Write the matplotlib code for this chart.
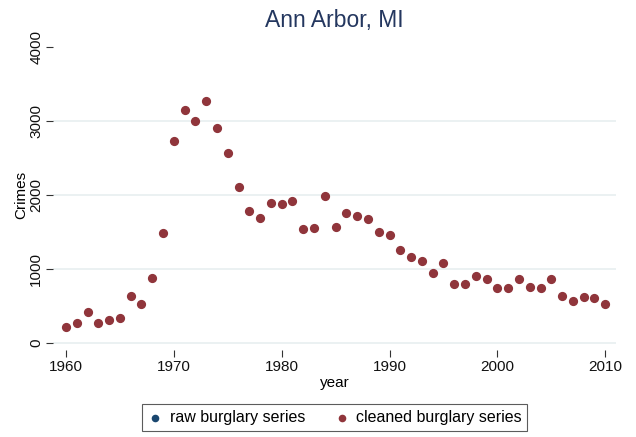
import numpy as np
import matplotlib.pyplot as plt

plt.rcParams['font.family'] = ['Liberation Sans', 'DejaVu Sans']

years = list(range(1960, 2011))
cleaned = [220, 275, 423, 275, 311, 342, 635, 522, 874, 1486,
           2734, 3149, 2995, 3270, 2910, 2572, 2113, 1788, 1685, 1887,
           1878, 1923, 1545, 1554, 1991, 1563, 1752, 1721, 1671, 1505,
           1455, 1252, 1162, 1104, 941, 1081, 802, 802, 910, 860,
           748, 739, 860, 752, 739, 860, 631, 572, 622, 604,
           523]
# raw series sits underneath the cleaned one
raw = list(cleaned)

y_ticks = [0, 1000, 2000, 3000, 4000]
x_ticks = [1960, 1970, 1980, 1990, 2000, 2010]

navy = "#1a476f"
maroon = "#90353b"

fig = plt.figure(figsize=(6.36, 4.37), dpi=100)
ax = fig.add_axes([53 / 636, 1 - 350 / 437, 563 / 636, 310 / 437])

for yv in y_ticks[:-1]:
    ax.axhline(yv, color="#e8eff0", lw=1.2, zorder=0)

ax.scatter(years, raw, s=30, color=navy, linewidth=0, zorder=2, label="raw burglary series")
ax.scatter(years, cleaned, s=44, color=maroon, linewidth=0,
           zorder=3, label="cleaned burglary series")

ax.set_xlim(1958.8, 2011)
ax.set_ylim(-95, 4095)
ax.set_xticks(x_ticks)
ax.set_yticks(y_ticks)
ax.set_yticklabels([str(v) for v in y_ticks], rotation=90, va="center")
for s in ax.spines.values():
    s.set_visible(False)
ax.tick_params(axis="both", direction="out", length=5, width=0.8, color="#333333",
               labelsize=11, pad=2, labelcolor="#111111")
ax.tick_params(axis="x", pad=2)

ax.set_xlabel("year", fontsize=11, labelpad=2)
ax.set_ylabel("Crimes", fontsize=11, labelpad=1)
ax.set_title("Ann Arbor, MI", color="#24375f", fontsize=16.5, pad=9)

leg = ax.legend(loc="center", bbox_to_anchor=(0.5, -0.218), ncol=2,
                fontsize=11.5, frameon=True, fancybox=False, edgecolor="#333333",
                handletextpad=0.4, columnspacing=1.8,
                borderpad=0.35, handlelength=1.0)
for h in leg.legend_handles:
    h.set_sizes([30])
leg.get_frame().set_linewidth(0.8)

fig.savefig("out.png", dpi=100)
